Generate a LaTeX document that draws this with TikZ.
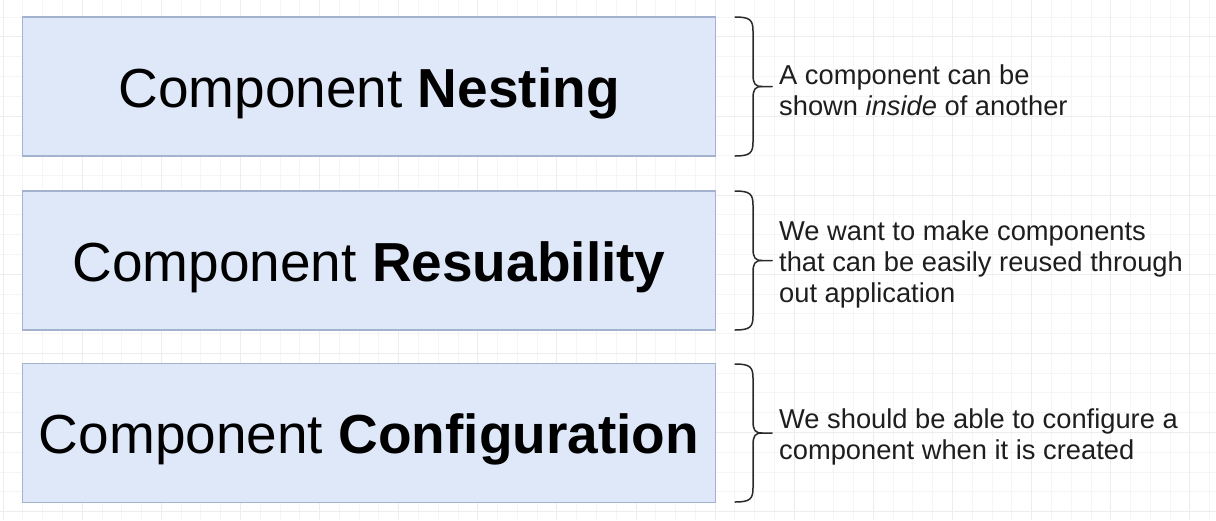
\documentclass[tikz,border=0pt]{standalone}
\usepackage{fontspec}
\setmainfont{Liberation Sans}
\definecolor{boxfill}{HTML}{DFE8F8}
\definecolor{boxdraw}{HTML}{A3B3CF}
\definecolor{gridminor}{HTML}{F5F5F5}
\definecolor{gridmajor}{HTML}{EDEDED}
\definecolor{bracecol}{HTML}{2A2A2A}
\definecolor{txtcol}{HTML}{1E1E1E}
\tikzset{
  bigbox/.style={draw=boxdraw, line width=1.6pt, fill=boxfill, minimum width=693pt, minimum height=139pt, inner sep=0pt, text height=41pt, text depth=0pt, font=\fontsize{55}{60}\selectfont, text=black},
  note/.style={anchor=west, align=left, inner sep=0pt, yshift=-4pt, font=\fontsize{27.3}{31}\selectfont, text=txtcol},
  bracestyle/.style={draw=bracecol, line width=1.5pt, line cap=round, line join=round}
}
\begin{document}
\begin{tikzpicture}[x=1pt,y=-1pt]
\useasboundingbox (0,0) rectangle (1216,520);
\fill[white] (0,0) rectangle (1216,520);
% grid
\foreach \i in {0,...,61} {
  \draw[gridminor, line width=0.8pt] ({3+\i*19.78},0) -- ({3+\i*19.78},520);
}
\foreach \j in {-1,...,26} {
  \draw[gridminor, line width=0.8pt] (0,{17+\j*19.78}) -- (1216,{17+\j*19.78});
}
\foreach \i in {0,4,...,60} {
  \draw[gridmajor, line width=0.8pt] ({3+\i*19.78},0) -- ({3+\i*19.78},520);
}
\foreach \j in {-3,1,...,25} {
  \draw[gridmajor, line width=0.8pt] (0,{17+\j*19.78}) -- (1216,{17+\j*19.78});
}
% boxes
\node[bigbox] (nest) at (369,86.5) {Component \textbf{Nesting}};
\node[bigbox] (reuse) at (369,260.5) {Component \textbf{Resuability}};
\node[bigbox] (conf) at (369,433) {Component \textbf{Configuration}};
% braces
\foreach \n/\t/\b in {nest/17/156, reuse/191/330, conf/364/502} {
  \pgfmathsetmacro{\m}{(\t+\b)/2}
  \draw[bracestyle] (735,\t) .. controls (750,\t) and (753,{\t+3}) .. (753,{\t+14})
    -- (753,{\m-12}) .. controls (753,{\m-3}) and (755,\m) .. (762,\m) -- (772,\m);
  \draw[bracestyle] (735,\b) .. controls (750,\b) and (753,{\b-3}) .. (753,{\b-14})
    -- (753,{\m+12}) .. controls (753,{\m+3}) and (755,\m) .. (762,\m);
  \coordinate (\n tip) at (779,\m);
}
% notes
\node[note] (n1) at (nesttip) {A component can be\\shown \textit{inside} of another};
\node[note] (n2) at (reusetip) {We want to make components\\that can be easily reused through\\out application};
\node[note] (n3) at (conftip) {We should be able to configure a\\component when it is created};
\end{tikzpicture}
\end{document}
